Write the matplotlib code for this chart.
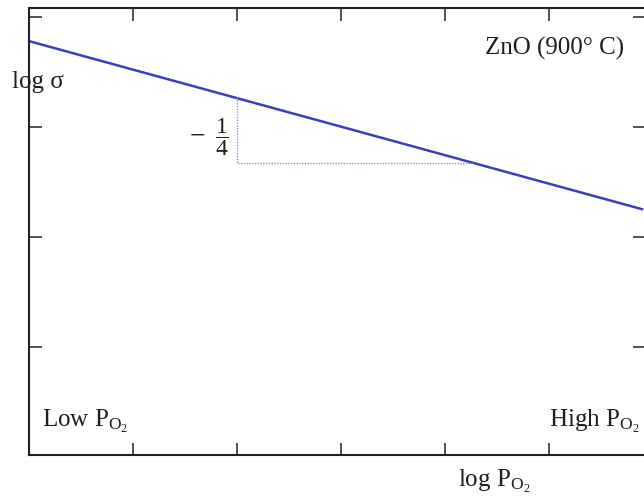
import matplotlib

matplotlib.use("Agg")
import matplotlib.pyplot as plt

plt.rcParams["font.family"] = ["Liberation Serif", "DejaVu Serif"]
plt.rcParams["mathtext.fontset"] = "custom"
plt.rcParams["mathtext.rm"] = "Liberation Serif"
plt.rcParams["mathtext.it"] = "Liberation Serif:italic"
plt.rcParams["mathtext.bf"] = "Liberation Serif:bold"

# schematic line: log sigma vs log P_O2 (arbitrary units)
line_x = [0.0, 5.91]
line_y = [3.78, 2.25]

# slope triangle
tri_x = [2.0, 2.0, 4.27]
tri_y = [3.27, 2.675, 2.675]

x_ticks = [1, 2, 3, 4, 5]
y_ticks = [1, 2, 3, 4]

LINE_COLOR = "#3a3fc0"
TRI_COLOR = "#8c8cf0"
TXT = "#1e1e1e"

fig = plt.figure(figsize=(6.44, 4.96), dpi=100)
ax = fig.add_axes([0.045, 0.0827, 0.957, 0.901])

ax.plot(line_x, line_y, color=LINE_COLOR, linewidth=1.8, solid_capstyle="butt")
ax.plot(tri_x, tri_y, color=TRI_COLOR, linewidth=1.0, linestyle=(0, (1, 1)))

ax.set_xlim(0, 5.93)
ax.set_ylim(0.02, 4.08)
ax.set_xticks(x_ticks)
ax.set_yticks(y_ticks)
ax.set_xticklabels([])
ax.set_yticklabels([])
ax.tick_params(direction="in", length=9, width=1.1, top=True, right=True, color="#222222")
for s in ax.spines.values():
    s.set_linewidth(1.5)
    s.set_color("#222222")

fs = 18
ax.text(5.73, 3.656, "ZnO (900° C)", ha="right", va="baseline", fontsize=fs, color=TXT)
fig.text(0.018, 0.8226, "log σ", ha="left", va="baseline", fontsize=fs, color=TXT)
# slope label -1/4
ax.text(1.62, 2.905, "\u2212", ha="center", va="center", fontsize=20, color=TXT)
ax.text(1.856, 2.91, r"$\dfrac{1}{4}$", ha="center", va="center", fontsize=17, color=TXT)
ax.text(0.125, 0.275, r"Low P$_{\mathrm{O}_2}$", ha="left", va="baseline", fontsize=fs, color=TXT)
ax.text(5.875, 0.275, r"High P$_{\mathrm{O}_2}$", ha="right", va="baseline", fontsize=fs, color=TXT)
fig.text(0.711, 0.018, r"log P$_{\mathrm{O}_2}$", ha="left", va="baseline", fontsize=fs, color=TXT)

fig.savefig("out.png", dpi=100)
